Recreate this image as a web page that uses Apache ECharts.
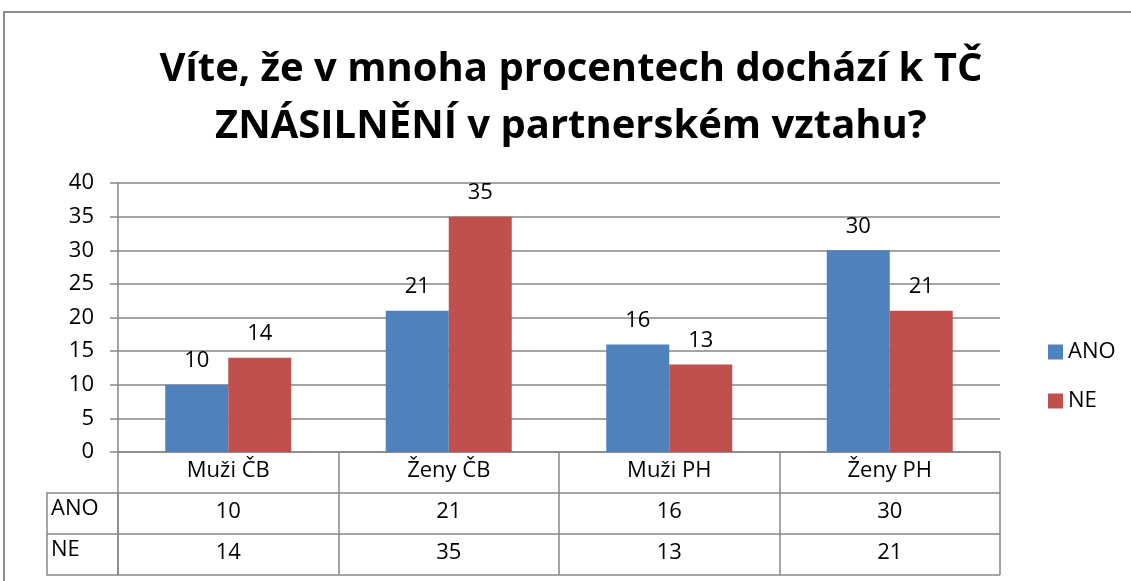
<!DOCTYPE html>
<html>
<head>
<meta charset="utf-8">
<script src="https://cdn.jsdelivr.net/npm/echarts@6/dist/echarts.min.js"></script>
<style>
  html, body { margin: 0; padding: 0; background: #fff; }
  #chart { width: 1131px; height: 581px; }
</style>
</head>
<body>
<div id="chart"></div>
<script>
var categories = ['Muži ČB', 'Ženy ČB', 'Muži PH', 'Ženy PH'];
var anoValues = [10, 21, 16, 30];
var neValues = [14, 35, 13, 21];
var seriesNames = ['ANO', 'NE'];

var chartDom = document.getElementById('chart');
var myChart = echarts.init(chartDom);
var font = '"Open Sans", sans-serif';
var gray = '#868686';
var fs = 22;

// data table rows are extra x axes stacked under the plot
function tableAxis(data, offset) {
  return {
    type: 'category',
    data: data,
    position: 'bottom',
    offset: offset,
    axisLine: { show: true, lineStyle: { color: gray, width: 1.5 } },
    axisTick: { show: true, inside: false, length: 41, lineStyle: { color: gray, width: 1.5 } },
    axisLabel: { color: '#000', fontSize: fs, fontFamily: font, margin: 8 }
  };
}

var option = {
  backgroundColor: '#fff',
  animation: false,
  title: {
    text: 'Víte, že v mnoha procentech dochází k TČ\nZNÁSILNĚNÍ v partnerském vztahu?',
    left: 566,
    textAlign: 'center',
    top: 36,
    textStyle: { fontFamily: font, fontSize: 40, fontWeight: 'bold', color: '#000', lineHeight: 57 }
  },
  legend: {
    orient: 'vertical',
    left: 1043,
    top: 336,
    itemWidth: 15,
    itemHeight: 15,
    itemGap: 27,
    icon: 'rect',
    textStyle: { fontFamily: font, fontSize: fs, color: '#000' },
    data: seriesNames
  },
  grid: { left: 118, right: 131, top: 183, bottom: 129 },
  xAxis: [
    tableAxis(categories, 0),
    tableAxis(anoValues.map(String), 41),
    tableAxis(neValues.map(String), 82)
  ],
  yAxis: {
    type: 'value',
    min: 0,
    max: 40,
    interval: 5,
    axisLine: { show: true, lineStyle: { color: gray, width: 1.5 } },
    axisTick: { show: true, length: 8, lineStyle: { color: gray, width: 1.5 } },
    splitLine: { lineStyle: { color: gray, width: 1.5 } },
    axisLabel: { color: '#000', fontSize: fs, fontFamily: font, margin: 24 }
  },
  series: [
    {
      name: 'ANO',
      type: 'bar',
      data: anoValues,
      barWidth: 63,
      barGap: 0,
      itemStyle: { color: '#4F81BD' },
      label: { show: true, position: 'top', distance: 13, color: '#000', fontSize: fs, fontFamily: font }
    },
    {
      name: 'NE',
      type: 'bar',
      data: neValues,
      barWidth: 63,
      barGap: 0,
      itemStyle: { color: '#C0504D' },
      label: { show: true, position: 'top', distance: 13, color: '#000', fontSize: fs, fontFamily: font }
    }
  ],
  graphic: [
    {
      type: 'rect',
      shape: { x: 4, y: 12, width: 1200, height: 700 },
      style: { fill: null, stroke: '#8c8c8c', lineWidth: 2 },
      silent: true
    },
    {
      type: 'rect',
      shape: { x: 47, y: 493, width: 71, height: 82 },
      style: { fill: null, stroke: gray, lineWidth: 1.5 },
      silent: true
    },
    {
      type: 'line',
      shape: { x1: 47, y1: 534, x2: 118, y2: 534 },
      style: { stroke: gray, lineWidth: 1.5 },
      silent: true
    },
    {
      type: 'line',
      shape: { x1: 118, y1: 575, x2: 1000, y2: 575 },
      style: { stroke: gray, lineWidth: 1.5 },
      silent: true
    },
    {
      type: 'text',
      left: 51,
      top: 498,
      style: { text: seriesNames[0], fontFamily: font, fontSize: fs, fill: '#000' }
    },
    {
      type: 'text',
      left: 51,
      top: 539,
      style: { text: seriesNames[1], fontFamily: font, fontSize: fs, fill: '#000' }
    }
  ]
};

myChart.setOption(option);
</script>
</body>
</html>
